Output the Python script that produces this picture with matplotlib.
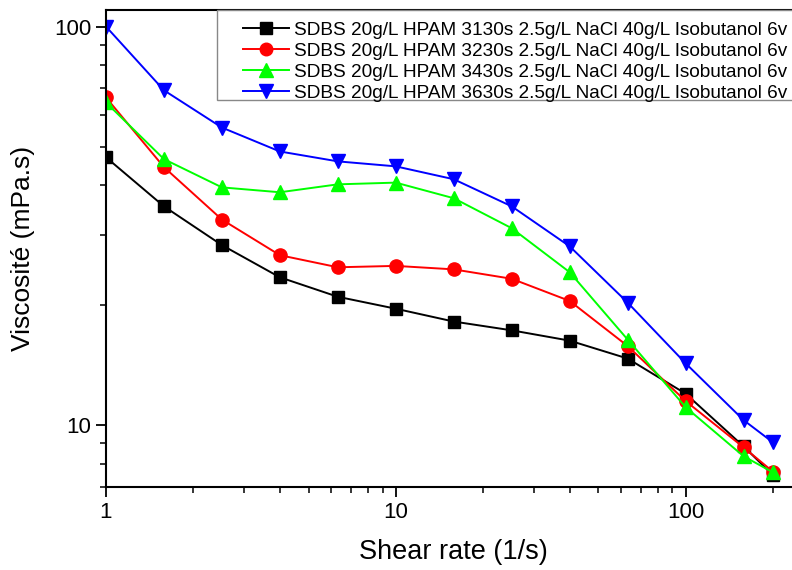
import matplotlib
matplotlib.use("Agg")
import matplotlib.pyplot as plt
from matplotlib.patches import Rectangle
from matplotlib.ticker import LogLocator, NullFormatter, FixedLocator, FixedFormatter

plt.rcParams["font.family"] = ["Liberation Sans", "DejaVu Sans"]

# Shear rate (1/s)
shear = [1, 1.585, 2.512, 3.981, 6.31, 10, 15.85, 25.12, 39.81, 63.1, 100, 158.5, 200]

# Viscosity (mPa.s) for each formulation
visc_3130 = [47.0, 35.4, 28.3, 23.5, 21.0, 19.6, 18.2, 17.3, 16.3, 14.7, 12.0, 8.85, 7.5]
visc_3230 = [66.4, 44.4, 32.8, 26.7, 24.9, 25.1, 24.6, 23.3, 20.5, 15.8, 11.5, 8.8, 7.65]
visc_3430 = [64.5, 46.5, 39.5, 38.4, 40.2, 40.6, 37.1, 31.2, 24.2, 16.4, 11.1, 8.36, 7.62]
visc_3630 = [100, 69.2, 55.8, 48.6, 45.9, 44.6, 41.4, 35.4, 28.1, 20.3, 14.3, 10.3, 9.06]

labels = [
    "SDBS 20g/L HPAM 3130s 2.5g/L NaCl 40g/L Isobutanol 6v",
    "SDBS 20g/L HPAM 3230s 2.5g/L NaCl 40g/L Isobutanol 6v",
    "SDBS 20g/L HPAM 3430s 2.5g/L NaCl 40g/L Isobutanol 6v",
    "SDBS 20g/L HPAM 3630s 2.5g/L NaCl 40g/L Isobutanol 6v",
]

fig = plt.figure(figsize=(7.92, 5.70), dpi=100)
ax = fig.add_axes([0.1338, 0.1456, 0.8775, 0.8368])

styles = [("black", "s", 9), ("red", "o", 9.5), ("#00ff00", "^", 10), ("blue", "v", 10)]
for y, lab, (c, m, ms) in zip([visc_3130, visc_3230, visc_3430, visc_3630], labels, styles):
    ax.plot(shear, y, color=c, marker=m, markersize=ms, linewidth=1.4, label=lab)

ax.set_xscale("log")
ax.set_yscale("log")
ax.set_xlim(1, 250)
ax.set_ylim(7, 110)

ax.xaxis.set_major_locator(FixedLocator([1, 10, 100]))
ax.xaxis.set_major_formatter(FixedFormatter(["1", "10", "100"]))
ax.xaxis.set_minor_locator(LogLocator(base=10, subs=range(2, 10)))
ax.xaxis.set_minor_formatter(NullFormatter())
ax.yaxis.set_major_locator(FixedLocator([10, 100]))
ax.yaxis.set_major_formatter(FixedFormatter(["10", "100"]))
ax.yaxis.set_minor_locator(LogLocator(base=10, subs=range(2, 10)))
ax.yaxis.set_minor_formatter(NullFormatter())

ax.tick_params(which="major", direction="out", length=7, width=1.3, labelsize=16, top=False, right=False)
ax.tick_params(which="minor", direction="out", length=4, width=1.1, top=False, right=False)
for sp in ax.spines.values():
    sp.set_linewidth(1.5)

ax.set_xlabel("Shear rate (1/s)", fontsize=19.5, labelpad=12)
ax.set_ylabel("Viscosité (mPa.s)", fontsize=19, labelpad=14)

# legend frame (extends past the right edge like the original)
frame = Rectangle((217 / 792, 1 - 100 / 570), 600 / 792, 90 / 570, transform=fig.transFigure,
                  facecolor="white", edgecolor="#888888", linewidth=1.0, zorder=4, clip_on=False)
ax.add_patch(frame)
leg = ax.legend(loc="upper left", bbox_to_anchor=(0.2997, 0.972), bbox_transform=fig.transFigure,
                borderaxespad=0, fontsize=13.65, frameon=False, handlelength=2.4, labelspacing=0.19,
                borderpad=0.3, handletextpad=0.3, markerscale=0.95)
leg.set_zorder(5)

fig.savefig("out.png", dpi=100)
